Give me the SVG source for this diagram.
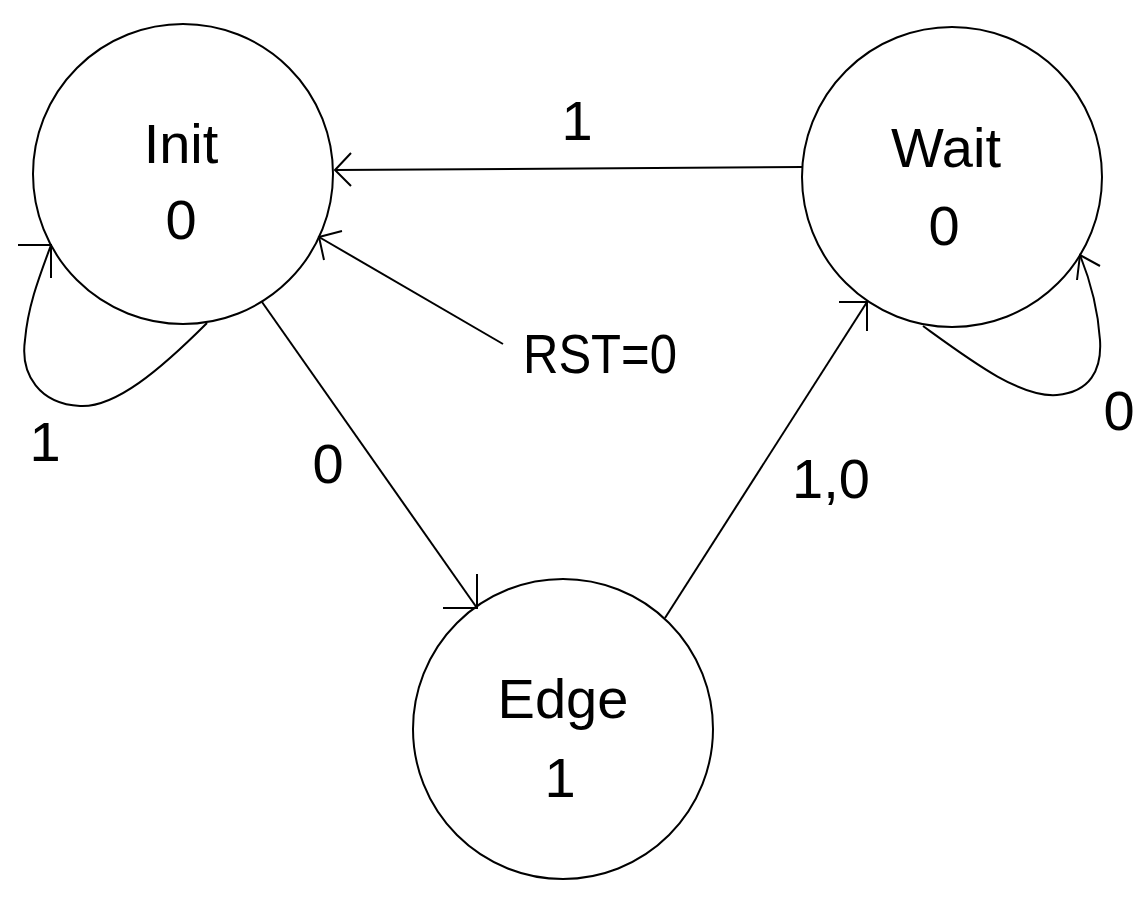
<svg xmlns="http://www.w3.org/2000/svg" width="1146" height="899" viewBox="0 0 1146 899">
<style>
.st{fill:#fff;stroke:#000;stroke-width:2}
.ln{fill:none;stroke:#000;stroke-width:2}
.t{font-family:"Liberation Sans",Arial,sans-serif;font-size:56px;fill:#000;text-anchor:middle}
</style>
<rect width="1146" height="899" fill="#fff"/>
<g id="init"><circle class="st" cx="183" cy="174" r="150"/><text class="t" x="181" y="163">Init</text><text class="t" x="181" y="239">0</text></g>
<g id="wait"><circle class="st" cx="952" cy="177" r="150"/><text class="t" x="946" y="167">Wait</text><text class="t" x="944" y="245">0</text></g>
<g id="edge"><circle class="st" cx="563" cy="729" r="150"/><text class="t" x="563" y="718">Edge</text><text class="t" x="560" y="797">1</text></g>
<g id="connectors">
<path class="ln" d="M207,323 C160,370 115,408 80,406 C40,404 20,375 25,340 C28,305 40,275 51,245"/>
<path class="ln" d="M18,245 H51 V278"/>
<path class="ln" d="M802,167 L335,170"/>
<path class="ln" d="M351,153 L335,170 L351,186"/>
<path class="ln" d="M503,344 L319,237"/>
<path class="ln" d="M342,231 L319,237 L324,260"/>
<path class="ln" d="M262,302 L477,608"/>
<path class="ln" d="M443,608 H477 V574"/>
<path class="ln" d="M665,618 L867,302"/>
<path class="ln" d="M839,302 H867 V331"/>
<path class="ln" d="M923,326 C970,360 1020,398 1057,395 C1090,392 1102,370 1100,340 C1098,310 1090,280 1080,255"/>
<path class="ln" d="M1100,266 L1080,255 L1077,280"/>
<text class="t" x="577" y="140">1</text>
<text class="t" x="45" y="461">1</text>
<text class="t" x="328" y="483">0</text>
<text class="t" x="831" y="498">1,0</text>
<text class="t" x="1119" y="430">0</text>
<text class="t" x="523" y="373" style="text-anchor:start" textLength="154" lengthAdjust="spacingAndGlyphs">RST=0</text>
</g>
</svg>
